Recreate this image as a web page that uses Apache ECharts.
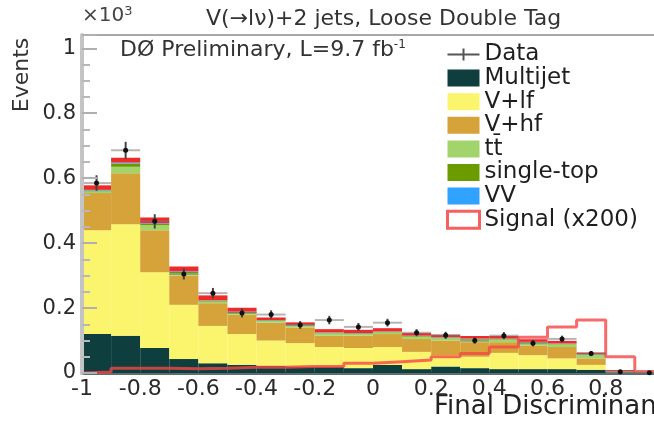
<!DOCTYPE html>
<html>
<head>
<meta charset="utf-8">
<script src="https://cdn.jsdelivr.net/npm/echarts@6/dist/echarts.min.js"></script>
<style>
  html, body { margin: 0; padding: 0; background: #fff; }
  #chart { width: 654px; height: 422px; }
</style>
</head>
<body>
<div id="chart"></div>
<script>
// bin edges of the final discriminant (20 bins of 0.1)
const edges = [-1, -0.9, -0.8, -0.7, -0.6, -0.5, -0.4, -0.3, -0.2, -0.1, 0,
  0.1, 0.2, 0.3, 0.4, 0.5, 0.6, 0.7, 0.8, 0.9, 1.0];

// stacked backgrounds, events x10^3 per bin
const multijet = [0.12, 0.115, 0.077, 0.043, 0.03, 0.025, 0.022, 0.02, 0.02, 0.015,
  0.025, 0.012, 0.02, 0.015, 0.012, 0.012, 0.012, 0.01, 0.002, 0];
const vlf = [0.32, 0.343, 0.233, 0.167, 0.115, 0.095, 0.078, 0.072, 0.06, 0.062,
  0.055, 0.053, 0.035, 0.035, 0.05, 0.043, 0.033, 0.015, 0.001, 0];
const vhf = [0.114, 0.157, 0.13, 0.09, 0.07, 0.06, 0.055, 0.048, 0.035, 0.038,
  0.04, 0.04, 0.045, 0.045, 0.033, 0.03, 0.035, 0.02, 0.001, 0];
const ttbar = [0.005, 0.02, 0.015, 0.008, 0.005, 0.005, 0.005, 0.005, 0.007, 0.005,
  0.005, 0.007, 0.007, 0.008, 0.008, 0.008, 0.008, 0.01, 0.001, 0];
const singleTop = [0.003, 0.01, 0.004, 0.003, 0.003, 0.003, 0.002, 0.002, 0.002, 0.002,
  0.002, 0.002, 0.002, 0.002, 0.002, 0.002, 0.002, 0.002, 0, 0];
const vv = [0.002, 0.003, 0.002, 0.002, 0.001, 0.001, 0.001, 0.001, 0.001, 0.001,
  0.001, 0.001, 0.001, 0.001, 0.001, 0.001, 0.001, 0.001, 0, 0];
const redBand = [0.014, 0.015, 0.018, 0.015, 0.015, 0.012, 0.008, 0.008, 0.01, 0.01,
  0.01, 0.008, 0.008, 0.008, 0.008, 0.008, 0.008, 0.005, 0.004, 0.001];

// data with statistical errors
const dataVals = [0.585, 0.686, 0.467, 0.305, 0.246, 0.185, 0.18, 0.148, 0.163, 0.142,
  0.155, 0.124, 0.116, 0.10, 0.115, 0.092, 0.105, 0.06, 0.004, 0.001];
const dataErr = [0.024, 0.026, 0.022, 0.017, 0.016, 0.014, 0.013, 0.012, 0.013, 0.012,
  0.012, 0.011, 0.011, 0.01, 0.011, 0.01, 0.01, 0.008, 0.002, 0.001];

// signal scaled x200 (hollow outline)
const signal200 = [0.003, 0.015, 0.015, 0.013, 0.015, 0.018, 0.018, 0.02, 0.02, 0.03,
  0.035, 0.04, 0.05, 0.06, 0.08, 0.11, 0.142, 0.163, 0.05, 0.005];

const yTicks = [0, 0.2, 0.4, 0.6, 0.8, 1];

const FONT = 'DejaVu Sans';

const components = [
  { name: 'Multijet', vals: multijet, color: '#0e3e3e' },
  { name: 'V+lf', vals: vlf, color: '#faf56c' },
  { name: 'V+hf', vals: vhf, color: '#d6a33a' },
  { name: 'tt\u0304', vals: ttbar, color: '#a2d46c' },
  { name: 'single-top', vals: singleTop, color: '#6a9c00' },
  { name: 'VV', vals: vv, color: '#2fa3ff' },
  { name: 'band', vals: redBand, color: '#ee2a2a' }
];

const base = edges.slice(0, -1).map(() => 0);
const stackSeries = components.map(c => {
  const rows = c.vals.map((v, i) => {
    const row = [edges[i], edges[i + 1], base[i], base[i] + v];
    base[i] += v;
    return row;
  });
  return {
    name: c.name,
    type: 'custom',
    itemStyle: { color: c.color },
    data: rows,
    encode: { x: [0, 1], y: [2, 3] },
    z: 2,
    renderItem: function (params, api) {
      if (api.value(3) - api.value(2) <= 0) return null;
      const p0 = api.coord([api.value(0), api.value(3)]);
      const p1 = api.coord([api.value(1), api.value(2)]);
      return {
        type: 'rect',
        shape: { x: p0[0], y: p0[1], width: p1[0] - p0[0], height: p1[1] - p0[1] },
        style: { fill: c.color }
      };
    }
  };
});

const signalLine = [[edges[0], 0]];
signal200.forEach((v, i) => {
  signalLine.push([edges[i], v], [edges[i + 1], v]);
});
signalLine.push([edges[edges.length - 1], 0]);

const dataRows = dataVals.map((v, i) => [(edges[i] + edges[i + 1]) / 2, v, dataErr[i], edges[i], edges[i + 1]]);

const chart = echarts.init(document.getElementById('chart'));

const option = {
  animation: false,
  grid: { left: 82, right: 0, top: 35, bottom: 49 },
  xAxis: [{
    type: 'value',
    min: -1,
    max: 0.966,
    interval: 0.2,
    axisLine: { show: true, onZero: false, lineStyle: { color: '#5f6e6e', width: 3 } },
    axisTick: { show: false },
    splitLine: { show: false },
    axisLabel: {
      showMaxLabel: false,
      margin: 5,
      fontFamily: FONT,
      fontSize: 22,
      color: '#2a2a2a'
    }
  }, {
    type: 'value',
    position: 'top',
    min: -1,
    max: 0.966,
    axisLine: { show: true, onZero: false, lineStyle: { color: '#a8a8a8', width: 2 } },
    axisTick: { show: false },
    axisLabel: { show: false },
    splitLine: { show: false }
  }],
  yAxis: {
    type: 'value',
    min: 0,
    max: 1.041,
    interval: 0.2,
    z: 6,
    axisLine: { show: true, onZero: false, lineStyle: { color: '#c4c4c4', width: 4 } },
    axisTick: { show: true, inside: true, length: 15, lineStyle: { color: '#b0b0b0', width: 2 } },
    minorTick: { show: true, splitNumber: 4, length: 8, lineStyle: { color: '#b8b8b8', width: 2 } },
    splitLine: { show: false },
    axisLabel: {
      showMaxLabel: false,
      margin: 6,
      fontFamily: FONT,
      fontSize: 21,
      color: '#2a2a2a',
      formatter: v => (yTicks.indexOf(Math.round(v * 10) / 10) >= 0 ? String(Math.round(v * 10) / 10) : '')
    }
  },
  legend: {
    orient: 'vertical',
    left: 446,
    top: 43,
    padding: 0,
    itemWidth: 32,
    itemHeight: 17,
    itemGap: 0.6,
    textStyle: { fontFamily: FONT, fontSize: 23, color: '#1e1e1e', lineHeight: 20 },
    data: [
      { name: 'Data', icon: 'path://M0,9h32v2h-32z M15,4h2v12h-2z', itemStyle: { color: '#555' } },
      { name: 'Multijet', icon: 'rect' },
      { name: 'V+lf', icon: 'rect' },
      { name: 'V+hf', icon: 'rect' },
      { name: 'tt\u0304', icon: 'rect' },
      { name: 'single-top', icon: 'rect' },
      { name: 'VV', icon: 'rect' },
      { name: 'Signal (x200)', icon: 'rect', itemStyle: { color: '#fff', borderColor: '#f56060', borderWidth: 3 } }
    ]
  },
  graphic: [
    { type: 'text', left: 82, top: 5, style: {
      text: '\u00d710{s|3}', fontFamily: FONT, fontSize: 20, fill: '#444',
      rich: { s: { fontFamily: FONT, fontSize: 13, verticalAlign: 'top', padding: [0, 0, 8, 0], fill: '#444' } } } },
    { type: 'text', left: 206, top: 8, style: {
      text: 'V(\u2192l\u03bd)+2 jets, Loose Double Tag', fontFamily: FONT, fontSize: 22, fill: '#333' } },
    { type: 'text', left: 120, top: 39, style: {
      text: 'D\u00d8 Preliminary, L=9.7 fb{s|-1}', fontFamily: FONT, fontSize: 22, fill: '#333',
      rich: { s: { fontFamily: FONT, fontSize: 12, padding: [0, 0, 10, 0], fill: '#333' } } } },
    { type: 'text', x: 22, y: 75, rotation: Math.PI / 2, style: {
      text: 'Events', fontFamily: FONT, fontSize: 22, fill: '#333', align: 'center', verticalAlign: 'middle' } },
    { type: 'text', left: 434, top: 394, style: {
      text: 'Final Discriminant', fontFamily: FONT, fontSize: 26, fill: '#222' } }
  ],
  series: stackSeries.concat([
    {
      name: 'Signal (x200)',
      type: 'line',
      data: signalLine,
      symbol: 'none',
      z: 4,
      itemStyle: { color: '#f56060' },
      lineStyle: { color: 'rgba(245,70,70,0.8)', width: 3 }
    },
    {
      name: 'Data',
      type: 'custom',
      data: dataRows,
      encode: { x: 0, y: 1 },
      z: 5,
      itemStyle: { color: '#555' },
      renderItem: function (params, api) {
        const x = api.value(0), y = api.value(1), e = api.value(2);
        const c = api.coord([x, y]);
        const l = api.coord([api.value(3), y]);
        const r = api.coord([api.value(4), y]);
        const lo = api.coord([x, Math.max(0, y - e)]);
        const hi = api.coord([x, y + e]);
        return {
          type: 'group',
          children: [
            { type: 'line', shape: { x1: l[0], y1: c[1], x2: r[0], y2: c[1] }, style: { stroke: 'rgba(120,120,120,0.55)', lineWidth: 2 } },
            { type: 'line', shape: { x1: c[0], y1: lo[1], x2: c[0], y2: hi[1] }, style: { stroke: '#444', lineWidth: 2 } },
            { type: 'circle', shape: { cx: c[0], cy: c[1], r: 2.5 }, style: { fill: '#111' } }
          ]
        };
      }
    }
  ])
};

chart.setOption(option);

window.addEventListener('resize', function () {
  chart.resize();
});
</script>
</body>
</html>
